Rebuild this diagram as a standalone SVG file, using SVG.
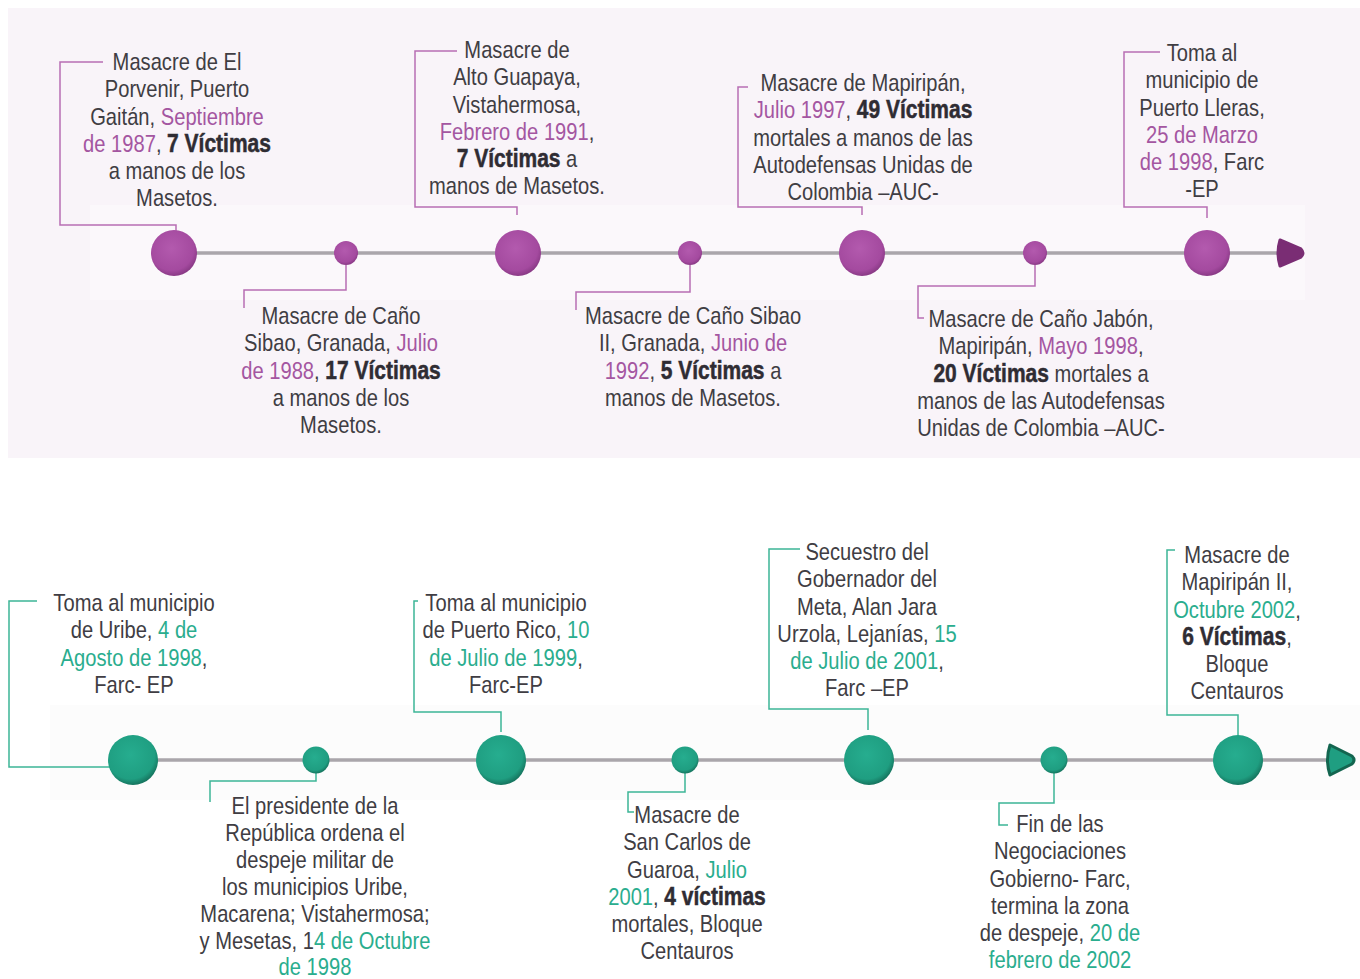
<svg xmlns="http://www.w3.org/2000/svg" width="1360" height="979" viewBox="0 0 1360 979">
<defs>
<radialGradient id="gp" cx="45%" cy="40%" r="60%"><stop offset="0" stop-color="#b35aae"/><stop offset="0.8" stop-color="#a44a9f"/><stop offset="1" stop-color="#8a3a86"/></radialGradient>
<radialGradient id="gt" cx="45%" cy="40%" r="60%"><stop offset="0" stop-color="#26ad8f"/><stop offset="0.8" stop-color="#1f9e81"/><stop offset="1" stop-color="#16755f"/></radialGradient>
<style>
text{font-family:"Liberation Sans",Arial,sans-serif;font-size:24px;fill:#403d43;text-anchor:middle}
.p{fill:#a456a1}
.t{fill:#2aad8e}
.b{font-weight:bold;fill:#2f2c33;font-size:25px;stroke:#2f2c33;stroke-width:0.5}
.lp{fill:none;stroke:#b86db4;stroke-width:1.5}
.lt{fill:none;stroke:#3cb597;stroke-width:1.5}
.tl{stroke:#aaa6ab;stroke-width:3.5;fill:none}
.cp{fill:url(#gp)}
.ct{fill:url(#gt)}
</style>
</defs>
<rect x="8" y="8" width="1352" height="450" fill="#f9f4f9"/>
<rect x="90" y="205" width="1215" height="95" fill="#fbf8fb"/>
<rect x="50" y="705" width="1310" height="95" fill="#fcfcfc"/>
<g id="connectors">
<line class="tl" x1="174" y1="253" x2="1285" y2="253"/>
<path d="M1280,240 Q1276,253 1280,266 L1301,257 Q1305,253 1301,249 Z" fill="#7a2d74" stroke="#7a2d74" stroke-width="3" stroke-linejoin="round"/>
<line class="tl" x1="133" y1="760" x2="1332" y2="760"/>
<path d="M1330,745 Q1325,760 1330,775 L1352,764 Q1356,760 1352,756 Z" fill="#1f9e81" stroke="#13654f" stroke-width="3" stroke-linejoin="round"/>
<path class="lp" d="M103,62 H60 V225 H176 V232"/>
<path class="lp" d="M457,51 H415 V207 H517 V215"/>
<path class="lp" d="M748,87 H738 V207 H862 V215"/>
<path class="lp" d="M1160,52 H1124 V207 H1207 V218"/>
<path class="lp" d="M346,265 V290 H244 V308"/>
<path class="lp" d="M690,265 V292 H576 V310"/>
<path class="lp" d="M1035,265 V286 H918 V318 H924"/>
<path class="lt" d="M37,601 H9 V767 H110"/>
<path class="lt" d="M418,601 H414 V712 H501 V732"/>
<path class="lt" d="M800,549 H769 V709 H868 V730"/>
<path class="lt" d="M1175,550 H1167 V715 H1238 V736"/>
<path class="lt" d="M316,773 V781 H210 V802"/>
<path class="lt" d="M685,773 V792 H628 V812 H634"/>
<path class="lt" d="M1054,773 V803 H999 V825 H1008"/>
</g>
<g id="n1"><circle class="cp" cx="174" cy="253" r="23"/>
<text transform="translate(177,0) scale(0.84,1)"><tspan x="0" y="70">Masacre de El</tspan><tspan x="0" y="97.3">Porvenir, Puerto</tspan><tspan x="0" y="124.6">Gaitán, <tspan class="p">Septiembre</tspan></tspan><tspan x="0" y="151.9"><tspan class="p">de 1987</tspan>, <tspan class="b">7 Víctimas</tspan></tspan><tspan x="0" y="179.2">a manos de los</tspan><tspan x="0" y="206.5">Masetos.</tspan></text></g>
<g id="n2"><circle class="cp" cx="346" cy="253" r="12"/>
<text transform="translate(341,0) scale(0.84,1)"><tspan x="0" y="324">Masacre de Caño</tspan><tspan x="0" y="351.3">Sibao, Granada, <tspan class="p">Julio</tspan></tspan><tspan x="0" y="378.6"><tspan class="p">de 1988</tspan>, <tspan class="b">17 Víctimas</tspan></tspan><tspan x="0" y="405.9">a manos de los</tspan><tspan x="0" y="433.2">Masetos.</tspan></text></g>
<g id="n3"><circle class="cp" cx="518" cy="253" r="23"/>
<text transform="translate(517,0) scale(0.84,1)"><tspan x="0" y="58">Masacre de</tspan><tspan x="0" y="85.3">Alto Guapaya,</tspan><tspan x="0" y="112.6">Vistahermosa,</tspan><tspan x="0" y="139.9"><tspan class="p">Febrero de 1991</tspan>,</tspan><tspan x="0" y="167.2"><tspan class="b">7 Víctimas</tspan> a</tspan><tspan x="0" y="194.5">manos de Masetos.</tspan></text></g>
<g id="n4"><circle class="cp" cx="690" cy="253" r="12"/>
<text transform="translate(693,0) scale(0.84,1)"><tspan x="0" y="324">Masacre de Caño Sibao</tspan><tspan x="0" y="351.3">II, Granada, <tspan class="p">Junio de</tspan></tspan><tspan x="0" y="378.6"><tspan class="p">1992</tspan>, <tspan class="b">5 Víctimas</tspan> a</tspan><tspan x="0" y="405.9">manos de Masetos.</tspan></text></g>
<g id="n5"><circle class="cp" cx="862" cy="253" r="23"/>
<text transform="translate(863,0) scale(0.84,1)"><tspan x="0" y="91">Masacre de Mapiripán,</tspan><tspan x="0" y="118.3"><tspan class="p">Julio 1997</tspan>, <tspan class="b">49 Víctimas</tspan></tspan><tspan x="0" y="145.6">mortales a manos de las</tspan><tspan x="0" y="172.9">Autodefensas Unidas de</tspan><tspan x="0" y="200.2">Colombia –AUC-</tspan></text></g>
<g id="n6"><circle class="cp" cx="1035" cy="253" r="12"/>
<text transform="translate(1041,0) scale(0.84,1)"><tspan x="0" y="327">Masacre de Caño Jabón,</tspan><tspan x="0" y="354.3">Mapiripán, <tspan class="p">Mayo 1998</tspan>,</tspan><tspan x="0" y="381.6"><tspan class="b">20 Víctimas</tspan> mortales a</tspan><tspan x="0" y="408.9">manos de las Autodefensas</tspan><tspan x="0" y="436.2">Unidas de Colombia –AUC-</tspan></text></g>
<g id="n7"><circle class="cp" cx="1207" cy="253" r="23"/>
<text transform="translate(1202,0) scale(0.84,1)"><tspan x="0" y="61">Toma al</tspan><tspan x="0" y="88.3">municipio de</tspan><tspan x="0" y="115.6">Puerto Lleras,</tspan><tspan x="0" y="142.9" class="p">25 de Marzo</tspan><tspan x="0" y="170.2"><tspan class="p">de 1998</tspan>, Farc</tspan><tspan x="0" y="197.5">-EP</tspan></text></g>
<g id="m1"><circle class="ct" cx="133" cy="760" r="25"/>
<text transform="translate(134,0) scale(0.84,1)"><tspan x="0" y="611">Toma al municipio</tspan><tspan x="0" y="638.3">de Uribe, <tspan class="t">4 de</tspan></tspan><tspan x="0" y="665.6"><tspan class="t">Agosto de 1998</tspan>,</tspan><tspan x="0" y="692.9">Farc- EP</tspan></text></g>
<g id="m2"><circle class="ct" cx="316" cy="760" r="13.5"/>
<text transform="translate(315,0) scale(0.84,1)"><tspan x="0" y="814">El presidente de la</tspan><tspan x="0" y="841">República ordena el</tspan><tspan x="0" y="868">despeje militar de</tspan><tspan x="0" y="895">los municipios Uribe,</tspan><tspan x="0" y="922">Macarena; Vistahermosa;</tspan><tspan x="0" y="949">y Mesetas, 1<tspan class="t">4 de Octubre</tspan></tspan><tspan x="0" y="975" class="t">de 1998</tspan></text></g>
<g id="m3"><circle class="ct" cx="501" cy="760" r="25"/>
<text transform="translate(506,0) scale(0.84,1)"><tspan x="0" y="611">Toma al municipio</tspan><tspan x="0" y="638.3">de Puerto Rico, <tspan class="t">10</tspan></tspan><tspan x="0" y="665.6"><tspan class="t">de Julio de 1999</tspan>,</tspan><tspan x="0" y="692.9">Farc-EP</tspan></text></g>
<g id="m4"><circle class="ct" cx="685" cy="760" r="13.5"/>
<text transform="translate(687,0) scale(0.84,1)"><tspan x="0" y="823">Masacre de</tspan><tspan x="0" y="850.3">San Carlos de</tspan><tspan x="0" y="877.6">Guaroa, <tspan class="t">Julio</tspan></tspan><tspan x="0" y="904.9"><tspan class="t">2001</tspan>, <tspan class="b">4 víctimas</tspan></tspan><tspan x="0" y="932.2">mortales, Bloque</tspan><tspan x="0" y="959.5">Centauros</tspan></text></g>
<g id="m5"><circle class="ct" cx="869" cy="760" r="25"/>
<text transform="translate(867,0) scale(0.84,1)"><tspan x="0" y="560">Secuestro del</tspan><tspan x="0" y="587.3">Gobernador del</tspan><tspan x="0" y="614.6">Meta, Alan Jara</tspan><tspan x="0" y="641.9">Urzola, Lejanías, <tspan class="t">15</tspan></tspan><tspan x="0" y="669.2"><tspan class="t">de Julio de 2001</tspan>,</tspan><tspan x="0" y="696.5">Farc –EP</tspan></text></g>
<g id="m6"><circle class="ct" cx="1054" cy="760" r="13.5"/>
<text transform="translate(1060,0) scale(0.84,1)"><tspan x="0" y="832">Fin de las</tspan><tspan x="0" y="859.3">Negociaciones</tspan><tspan x="0" y="886.6">Gobierno- Farc,</tspan><tspan x="0" y="913.9">termina la zona</tspan><tspan x="0" y="941.2">de despeje, <tspan class="t">20 de</tspan></tspan><tspan x="0" y="968.5" class="t">febrero de 2002</tspan></text></g>
<g id="m7"><circle class="ct" cx="1238" cy="760" r="25"/>
<text transform="translate(1237,0) scale(0.84,1)"><tspan x="0" y="563">Masacre de</tspan><tspan x="0" y="590.3">Mapiripán II,</tspan><tspan x="0" y="617.6"><tspan class="t">Octubre 2002</tspan>,</tspan><tspan x="0" y="644.9"><tspan class="b">6 Víctimas</tspan>,</tspan><tspan x="0" y="672.2">Bloque</tspan><tspan x="0" y="699.5">Centauros</tspan></text></g>
</svg>
